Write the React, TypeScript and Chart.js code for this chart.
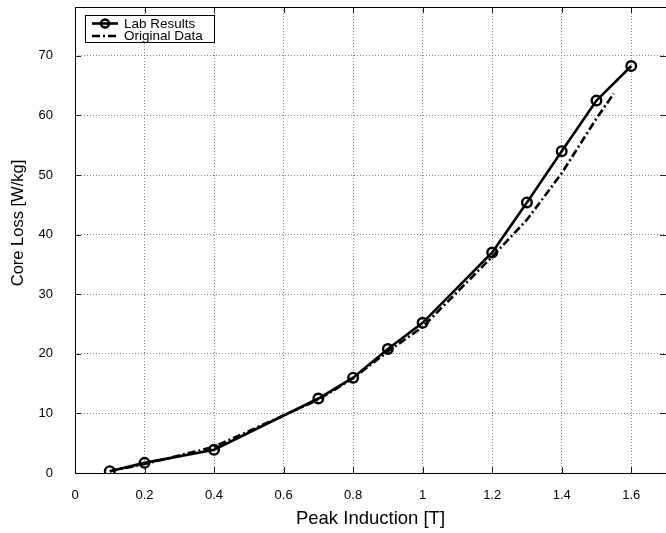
import React, { useEffect, useRef } from "react";
import { Chart, registerables } from "chart.js";
Chart.register(...registerables);

const labX = [0.1, 0.2, 0.4, 0.7, 0.8, 0.9, 1.0, 1.2, 1.3, 1.4, 1.5, 1.6];
const labY = [0.3, 1.7, 3.9, 12.5, 16.0, 20.8, 25.2, 37.0, 45.4, 54.0, 62.5, 68.3];
const origX = [0.1, 0.2, 0.4, 0.7, 0.8, 0.9, 1.0, 1.2, 1.3, 1.4, 1.5, 1.55];
const origY = [0.3, 1.5, 4.4, 12.3, 15.9, 20.4, 24.5, 36.3, 42.5, 50.3, 59.5, 63.7];
const xTicks = [0, 0.2, 0.4, 0.6, 0.8, 1, 1.2, 1.4, 1.6];
const yTicks = [0, 10, 20, 30, 40, 50, 60, 70];
const seriesLabels = ["Lab Results", "Original Data"];
const xTitle = "Peak Induction [T]";
const yTitle = "Core Loss [W/kg]";

const FONT = "'Liberation Sans', Arial, Helvetica, sans-serif";

const boxPlugin = {
  id: "boxTicks",
  afterDatasetsDraw(chart: any) {
    const { ctx, chartArea: a, scales } = chart;
    ctx.save();
    ctx.strokeStyle = "#222";
    ctx.lineWidth = 1;
    ctx.setLineDash([]);
    const L = 6;
    ctx.beginPath();
    xTicks.forEach((v) => {
      const x = Math.round(scales.x.getPixelForValue(v)) + 0.5;
      ctx.moveTo(x, a.bottom);
      ctx.lineTo(x, a.bottom - L);
      ctx.moveTo(x, a.top);
      ctx.lineTo(x, a.top + L);
    });
    yTicks.forEach((v) => {
      const y = Math.round(scales.y.getPixelForValue(v)) + 0.5;
      ctx.moveTo(a.left, y);
      ctx.lineTo(a.left + L, y);
      ctx.moveTo(a.right, y);
      ctx.lineTo(a.right - L, y);
    });
    ctx.stroke();
    ctx.strokeStyle = "#000";
    ctx.strokeRect(Math.round(a.left) + 0.5, Math.round(a.top) + 0.5, Math.round(a.right - a.left), Math.round(a.bottom - a.top));
    ctx.restore();
  },
  afterDraw(chart: any) {
    const { ctx } = chart;
    // y-axis title
    ctx.save();
    ctx.translate(18, 223);
    ctx.rotate(-Math.PI / 2);
    ctx.fillStyle = "#000";
    ctx.font = `16.5px ${FONT}`;
    ctx.textAlign = "center";
    ctx.textBaseline = "middle";
    ctx.fillText(yTitle, 0, 0);
    ctx.restore();

    const bx = 85, by = 15, bw = 129, bh = 27;
    ctx.save();
    ctx.fillStyle = "#fff";
    ctx.fillRect(bx, by, bw, bh);
    ctx.strokeStyle = "#000";
    ctx.lineWidth = 1;
    ctx.strokeRect(bx + 0.5, by + 0.5, bw, bh);
    chart.data.datasets.forEach((ds: any, i: number) => {
      const y = by + 8.5 + i * 12.5;
      ctx.save();
      ctx.strokeStyle = ds.borderColor;
      ctx.lineWidth = ds.borderWidth;
      ctx.setLineDash(ds.borderDash || []);
      ctx.beginPath();
      ctx.moveTo(92, y);
      ctx.lineTo(118, y);
      ctx.stroke();
      ctx.setLineDash([]);
      if (ds.pointRadius > 0) {
        ctx.lineWidth = ds.pointBorderWidth;
        ctx.beginPath();
        ctx.arc(105, y, ds.pointRadius - 0.8, 0, Math.PI * 2);
        ctx.stroke();
      }
      ctx.restore();
      ctx.fillStyle = "#000";
      ctx.font = `13.5px ${FONT}`;
      ctx.textBaseline = "middle";
      ctx.textAlign = "left";
      ctx.fillText(ds.label, 124, y + 0.5);
    });
    ctx.restore();
  },
};

export default function App() {
  const ref = useRef<HTMLCanvasElement | null>(null);
  useEffect(() => {
    if (!ref.current) return;
    const chart = new Chart(ref.current, {
      type: "line",
      data: {
        datasets: [
          {
            label: seriesLabels[0],
            data: labX.map((x, i) => ({ x, y: labY[i] })),
            borderColor: "#000",
            borderWidth: 2.6,
            pointRadius: 4.8,
            pointBorderWidth: 2.4,
            pointBorderColor: "#000",
            pointBackgroundColor: "rgba(255,255,255,0)",
            tension: 0,
            fill: false,
          } as any,
          {
            label: seriesLabels[1],
            data: origX.map((x, i) => ({ x, y: origY[i] })),
            borderColor: "#000",
            borderWidth: 2.6,
            borderDash: [8, 3, 2, 3],
            pointRadius: 0,
            tension: 0,
            fill: false,
          } as any,
        ],
      },
      options: {
        animation: false,
        responsive: false,
        layout: { autoPadding: false, padding: { top: 7, right: 0, left: 0, bottom: 0 } },
        plugins: { legend: { display: false }, tooltip: { enabled: false } },
        scales: {
          x: {
            type: "linear",
            min: 0,
            max: 1.7,
            afterBuildTicks: (s: any) => {
              s.ticks = xTicks.map((v) => ({ value: v }));
            },
            afterFit: (s: any) => {
              s.height = 60;
              s.paddingLeft = 0;
              s.paddingRight = 0;
              s.paddingTop = 0;
              s.paddingBottom = 0;
            },
            ticks: {
              padding: 15,
              color: "#000",
              font: { family: FONT, size: 13 },
              maxRotation: 0,
              callback: (v: any) => String(v),
            },
            grid: { color: "#8a8a8a", lineWidth: 1, drawTicks: false },
            border: { display: false, dash: [1, 2] },
            title: {
              display: true,
              text: xTitle,
              color: "#000",
              font: { family: FONT, size: 18.5 },
              padding: { top: 0, bottom: 3 },
            },
          },
          y: {
            type: "linear",
            min: 0,
            max: 78.2,
            afterBuildTicks: (s: any) => {
              s.ticks = yTicks.map((v) => ({ value: v }));
            },
            afterFit: (s: any) => {
              s.width = 75;
              s.paddingLeft = 0;
              s.paddingRight = 0;
              s.paddingTop = 0;
              s.paddingBottom = 0;
            },
            ticks: {
              padding: 22,
              color: "#000",
              font: { family: FONT, size: 13 },
              callback: (v: any) => String(v),
            },
            grid: { color: "#8a8a8a", lineWidth: 1, drawTicks: false },
            border: { display: false, dash: [1, 2] },
            title: { display: false, text: yTitle },
          },
        },
      } as any,
      plugins: [boxPlugin],
    });
    return () => chart.destroy();
  }, []);
  return (
    <div style={{ position: "fixed", left: 0, top: 0, width: 666, height: 533, background: "#fff" }}>
      <canvas ref={ref} width={666} height={533} style={{ display: "block" }} />
    </div>
  );
}
